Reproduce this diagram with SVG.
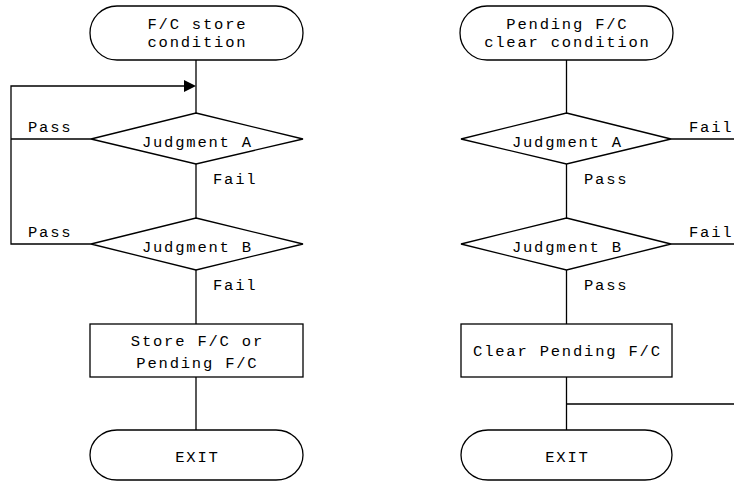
<svg xmlns="http://www.w3.org/2000/svg" width="734" height="482" viewBox="0 0 734 482">
<style>
.s{fill:#fff;stroke:#000;stroke-width:1.3}
.c{fill:none;stroke:#000;stroke-width:1.3}
text{font-family:"Liberation Mono","Courier New",monospace;font-size:15.5px;letter-spacing:1.8px;fill:#000}
.m{text-anchor:middle}
</style>
<rect width="734" height="482" fill="#fff"/>
<g id="connectors">
<path class="c" d="M196 60V113M196 164V218M196 270V324M196 377V430"/>
<path class="c" d="M91 244H11V86H185M11 139H91"/>
<polygon points="184,80 196,86 184,92" fill="#000"/>
<path class="c" d="M566.5 60V113M566.5 164V218M566.5 270V324M566.5 377V430M566.5 404H734"/>
<path class="c" d="M671 139H734M671 244H734"/>
<text x="28" y="132">Pass</text>
<text x="28" y="237">Pass</text>
<text x="213" y="184">Fail</text>
<text x="213" y="290">Fail</text>
<text x="584" y="184">Pass</text>
<text x="584" y="290">Pass</text>
<text x="689" y="132">Fail</text>
<text x="689" y="237">Fail</text>
</g>
<g id="start1"><rect class="s" x="90" y="6" width="213" height="54" rx="27"/><text class="m" x="197.4" y="29">F/C store</text><text class="m" x="197.4" y="47">condition</text></g>
<g id="judgeA1"><polygon class="s" points="196,113 303,139 196,164 91,139"/><text class="m" x="197.4" y="147">Judgment A</text></g>
<g id="judgeB1"><polygon class="s" points="196,218 303,244 196,270 91,244"/><text class="m" x="197.4" y="252">Judgment B</text></g>
<g id="store"><rect class="s" x="90" y="324" width="213" height="53"/><text class="m" x="197.4" y="346">Store F/C or</text><text class="m" x="197.4" y="368">Pending F/C</text></g>
<g id="exit1"><rect class="s" x="90" y="430" width="213" height="50" rx="27"/><text class="m" x="197.4" y="462">EXIT</text></g>
<g id="start2"><rect class="s" x="460" y="6" width="213" height="54" rx="27"/><text class="m" x="567.4" y="29">Pending F/C</text><text class="m" x="567.4" y="47">clear condition</text></g>
<g id="judgeA2"><polygon class="s" points="566.5,113 671,139 566.5,164 461,139"/><text class="m" x="567.4" y="147">Judgment A</text></g>
<g id="judgeB2"><polygon class="s" points="566.5,218 671,244 566.5,270 461,244"/><text class="m" x="567.4" y="252">Judgment B</text></g>
<g id="clear"><rect class="s" x="461" y="324" width="211" height="53"/><text class="m" x="567.4" y="356">Clear Pending F/C</text></g>
<g id="exit2"><rect class="s" x="461" y="430" width="211" height="50" rx="27"/><text class="m" x="567.4" y="462">EXIT</text></g>
</svg>
